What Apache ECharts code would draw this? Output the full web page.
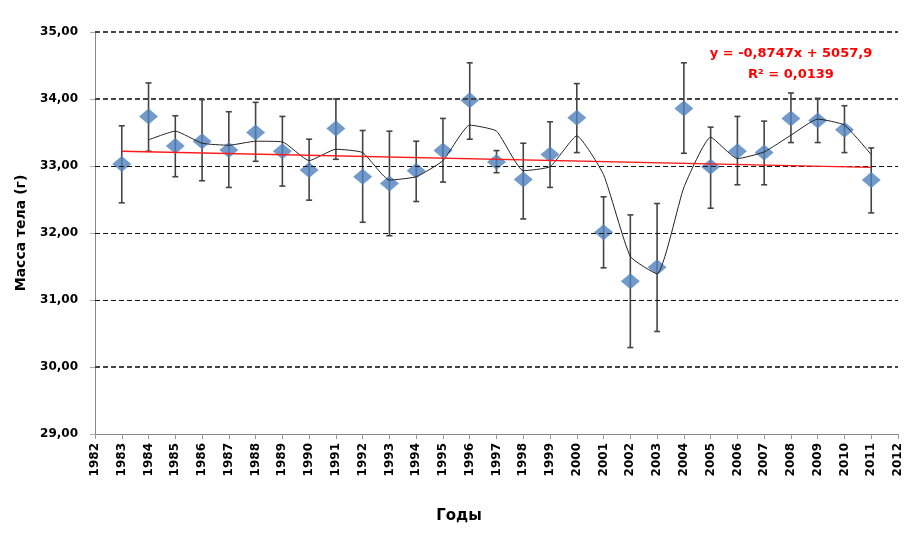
<!DOCTYPE html>
<html><head><meta charset="utf-8">
<script src="https://cdn.jsdelivr.net/npm/echarts@6/dist/echarts.min.js"></script>
<style>html,body{margin:0;padding:0;background:#fff}#c{width:906px;height:533px}</style>
</head><body><div id="c"></div>
<script>
var years = [1983,1984,1985,1986,1987,1988,1989,1990,1991,1992,1993,1994,1995,1996,1997,1998,1999,2000,2001,2002,2003,2004,2005,2006,2007,2008,2009,2010,2011];
var mass = [33.03,33.74,33.30,33.37,33.24,33.50,33.22,32.94,33.56,32.84,32.74,32.93,33.23,33.98,33.06,32.80,33.17,33.72,32.01,31.28,31.49,33.86,32.99,33.22,33.20,33.71,33.68,33.54,32.79];
var errHigh = [33.60,34.24,33.75,33.99,33.81,33.95,33.74,33.40,34.00,33.53,33.52,33.37,33.71,34.54,33.23,33.34,33.66,34.23,32.54,32.27,32.44,34.54,33.58,33.74,33.67,34.09,34.01,33.90,33.27];
var errLow = [32.45,33.22,32.84,32.78,32.68,33.07,32.70,32.49,33.10,32.16,31.96,32.47,32.76,33.40,32.90,32.21,32.68,33.20,31.48,30.29,30.53,33.19,32.37,32.72,32.72,33.35,33.35,33.20,32.30];
var maYears = [1984,1985,1986,1987,1988,1989,1990,1991,1992,1993,1994,1995,1996,1997,1998,1999,2000,2001,2002,2003,2004,2005,2006,2007,2008,2009,2010,2011];
var maValues = [33.39,33.52,33.34,33.31,33.37,33.36,33.08,33.25,33.20,32.79,32.84,33.08,33.61,33.52,32.93,32.99,33.45,32.87,31.65,31.39,32.68,33.43,33.11,33.21,33.46,33.70,33.61,33.17];
var trendYears = [1983, 2011];
var trendValues = [33.22, 32.98];
var heavyLines = [35,34,30];
var lightLines = [33,32,31];
var equation = 'y = -0,8747x + 5057,9';
var r2 = 'R² = 0,0139';
var xTitle = 'Годы';
var yTitle = 'Масса тела (г)';

var chart = echarts.init(document.getElementById('c'));
var fontFam = '"DejaVu Sans", Verdana, sans-serif';
var errData = years.map(function(y,i){return [y, errLow[i], errHigh[i]];});
function lineData(arr){return arr.map(function(v){return {yAxis:v};});}
chart.setOption({
  animation:false,
  grid:{left:95,right:8,top:32,bottom:99},
  xAxis:{type:'value',min:1982,max:2012,interval:1,
    axisLine:{show:true,lineStyle:{color:'#888',width:1}},
    axisTick:{show:true,length:5,lineStyle:{color:'#999'}},
    splitLine:{show:false},
    axisLabel:{rotate:90,margin:9,color:'#000',fontWeight:'bold',fontSize:12,fontFamily:fontFam,formatter:function(v){return String(v);}},
  },
  yAxis:{type:'value',min:29,max:35,interval:1,
    axisLine:{show:true,lineStyle:{color:'#888',width:1}},
    axisTick:{show:true,length:5,lineStyle:{color:'#aaa'}},
    splitLine:{show:false},
    axisLabel:{margin:17,color:'#000',fontWeight:'bold',fontSize:12,fontFamily:fontFam,formatter:function(v){return v.toFixed(2).replace('.',',');}},
    name:yTitle,nameLocation:'middle',nameGap:67,nameRotate:90,
    nameTextStyle:{color:'#000',fontWeight:'bold',fontSize:14,fontFamily:fontFam}
  },
  series:[
    {type:'line',data:[],silent:true,
      markLine:{symbol:'none',silent:true,label:{show:false},
        data:lineData(heavyLines),lineStyle:{color:'#444',width:2,type:[5,3]}}},
    {type:'line',data:[],silent:true,
      markLine:{symbol:'none',silent:true,label:{show:false},
        data:lineData(lightLines),lineStyle:{color:'#111',width:1.2,type:[5,3]}}},
    {type:'custom',data:errData,z:3,
      renderItem:function(params,api){
        var x=api.value(0);
        var lo=api.coord([x,api.value(1)]);
        var hi=api.coord([x,api.value(2)]);
        var w=3;
        var st={stroke:'#444',lineWidth:1.6};
        return {type:'group',children:[
          {type:'line',shape:{x1:lo[0],y1:lo[1],x2:hi[0],y2:hi[1]},style:st},
          {type:'line',shape:{x1:lo[0]-w,y1:lo[1],x2:lo[0]+w,y2:lo[1]},style:st},
          {type:'line',shape:{x1:hi[0]-w,y1:hi[1],x2:hi[0]+w,y2:hi[1]},style:st}
        ]};
      }},
    {type:'scatter',z:4,data:years.map(function(y,i){return [y,mass[i]];}),
      symbol:'diamond',symbolSize:[19,16],itemStyle:{color:'#4F81BD'}},
    {type:'line',z:5,data:maYears.map(function(y,i){return [y,maValues[i]];}),
      showSymbol:false,smooth:0.15,lineStyle:{color:'#222',width:1}},
    {type:'line',z:6,data:trendYears.map(function(y,i){return [y,trendValues[i]];}),
      showSymbol:false,lineStyle:{color:'#ff1a1a',width:1.3}}
  ],
  graphic:[
    {type:'text',x:791,y:54,style:{text:equation,fill:'#ff0000',font:'bold 13px '+fontFam,align:'center',verticalAlign:'middle'}},
    {type:'text',x:791,y:75,style:{text:r2,fill:'#ff0000',font:'bold 13px '+fontFam,align:'center',verticalAlign:'middle'}},
    {type:'text',x:459,y:516,style:{text:xTitle,fill:'#000',font:'bold 15px '+fontFam,align:'center',verticalAlign:'middle'}}
  ]
});
</script></body></html>
